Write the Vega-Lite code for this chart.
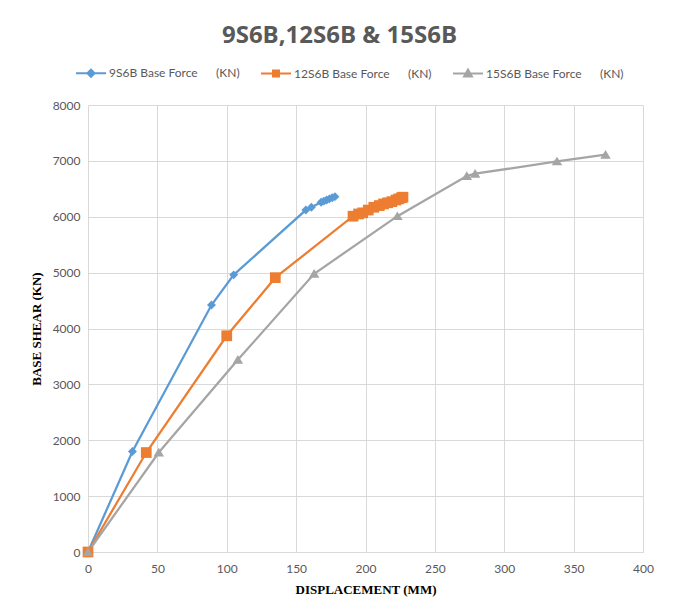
{
  "$schema": "https://vega.github.io/schema/vega-lite/v6.json",
  "width": 555,
  "height": 447,
  "autosize": {"type": "none"},
  "padding": {"left": 88, "top": 105, "right": 34, "bottom": 60},
  "background": "white",
  "title": {
    "text": "9S6B,12S6B & 15S6B",
    "font": "Open Sans",
    "fontSize": 24,
    "fontWeight": "bold",
    "color": "#595959",
    "anchor": "middle",
    "dx": -26,
    "offset": 9
  },
  "data": {
    "values": [
      {"series": "9S6B Base Force\u00a0\u00a0\u00a0\u00a0\u00a0\u00a0(KN)", "displacement": 0, "shear": 0},
      {"series": "9S6B Base Force\u00a0\u00a0\u00a0\u00a0\u00a0\u00a0(KN)", "displacement": 32, "shear": 1800},
      {"series": "9S6B Base Force\u00a0\u00a0\u00a0\u00a0\u00a0\u00a0(KN)", "displacement": 89, "shear": 4420},
      {"series": "9S6B Base Force\u00a0\u00a0\u00a0\u00a0\u00a0\u00a0(KN)", "displacement": 105, "shear": 4960},
      {"series": "9S6B Base Force\u00a0\u00a0\u00a0\u00a0\u00a0\u00a0(KN)", "displacement": 157, "shear": 6120},
      {"series": "9S6B Base Force\u00a0\u00a0\u00a0\u00a0\u00a0\u00a0(KN)", "displacement": 161, "shear": 6170},
      {"series": "9S6B Base Force\u00a0\u00a0\u00a0\u00a0\u00a0\u00a0(KN)", "displacement": 168, "shear": 6260},
      {"series": "9S6B Base Force\u00a0\u00a0\u00a0\u00a0\u00a0\u00a0(KN)", "displacement": 170, "shear": 6280},
      {"series": "9S6B Base Force\u00a0\u00a0\u00a0\u00a0\u00a0\u00a0(KN)", "displacement": 172, "shear": 6300},
      {"series": "9S6B Base Force\u00a0\u00a0\u00a0\u00a0\u00a0\u00a0(KN)", "displacement": 174, "shear": 6320},
      {"series": "9S6B Base Force\u00a0\u00a0\u00a0\u00a0\u00a0\u00a0(KN)", "displacement": 176, "shear": 6340},
      {"series": "9S6B Base Force\u00a0\u00a0\u00a0\u00a0\u00a0\u00a0(KN)", "displacement": 178, "shear": 6360},
      {"series": "12S6B Base Force\u00a0\u00a0\u00a0\u00a0\u00a0\u00a0(KN)", "displacement": 0, "shear": 0},
      {"series": "12S6B Base Force\u00a0\u00a0\u00a0\u00a0\u00a0\u00a0(KN)", "displacement": 42, "shear": 1780},
      {"series": "12S6B Base Force\u00a0\u00a0\u00a0\u00a0\u00a0\u00a0(KN)", "displacement": 100, "shear": 3870},
      {"series": "12S6B Base Force\u00a0\u00a0\u00a0\u00a0\u00a0\u00a0(KN)", "displacement": 135, "shear": 4910},
      {"series": "12S6B Base Force\u00a0\u00a0\u00a0\u00a0\u00a0\u00a0(KN)", "displacement": 191, "shear": 6010},
      {"series": "12S6B Base Force\u00a0\u00a0\u00a0\u00a0\u00a0\u00a0(KN)", "displacement": 195, "shear": 6050},
      {"series": "12S6B Base Force\u00a0\u00a0\u00a0\u00a0\u00a0\u00a0(KN)", "displacement": 198, "shear": 6070},
      {"series": "12S6B Base Force\u00a0\u00a0\u00a0\u00a0\u00a0\u00a0(KN)", "displacement": 202, "shear": 6120},
      {"series": "12S6B Base Force\u00a0\u00a0\u00a0\u00a0\u00a0\u00a0(KN)", "displacement": 206, "shear": 6170},
      {"series": "12S6B Base Force\u00a0\u00a0\u00a0\u00a0\u00a0\u00a0(KN)", "displacement": 210, "shear": 6200},
      {"series": "12S6B Base Force\u00a0\u00a0\u00a0\u00a0\u00a0\u00a0(KN)", "displacement": 213, "shear": 6230},
      {"series": "12S6B Base Force\u00a0\u00a0\u00a0\u00a0\u00a0\u00a0(KN)", "displacement": 216, "shear": 6250},
      {"series": "12S6B Base Force\u00a0\u00a0\u00a0\u00a0\u00a0\u00a0(KN)", "displacement": 219, "shear": 6270},
      {"series": "12S6B Base Force\u00a0\u00a0\u00a0\u00a0\u00a0\u00a0(KN)", "displacement": 222, "shear": 6300},
      {"series": "12S6B Base Force\u00a0\u00a0\u00a0\u00a0\u00a0\u00a0(KN)", "displacement": 224, "shear": 6320},
      {"series": "12S6B Base Force\u00a0\u00a0\u00a0\u00a0\u00a0\u00a0(KN)", "displacement": 226, "shear": 6340},
      {"series": "12S6B Base Force\u00a0\u00a0\u00a0\u00a0\u00a0\u00a0(KN)", "displacement": 227, "shear": 6350},
      {"series": "15S6B Base Force\u00a0\u00a0\u00a0\u00a0\u00a0\u00a0(KN)", "displacement": 0, "shear": 0},
      {"series": "15S6B Base Force\u00a0\u00a0\u00a0\u00a0\u00a0\u00a0(KN)", "displacement": 51, "shear": 1780},
      {"series": "15S6B Base Force\u00a0\u00a0\u00a0\u00a0\u00a0\u00a0(KN)", "displacement": 108, "shear": 3440},
      {"series": "15S6B Base Force\u00a0\u00a0\u00a0\u00a0\u00a0\u00a0(KN)", "displacement": 163, "shear": 4980},
      {"series": "15S6B Base Force\u00a0\u00a0\u00a0\u00a0\u00a0\u00a0(KN)", "displacement": 223, "shear": 6010},
      {"series": "15S6B Base Force\u00a0\u00a0\u00a0\u00a0\u00a0\u00a0(KN)", "displacement": 273, "shear": 6730},
      {"series": "15S6B Base Force\u00a0\u00a0\u00a0\u00a0\u00a0\u00a0(KN)", "displacement": 279, "shear": 6770},
      {"series": "15S6B Base Force\u00a0\u00a0\u00a0\u00a0\u00a0\u00a0(KN)", "displacement": 338, "shear": 6990},
      {"series": "15S6B Base Force\u00a0\u00a0\u00a0\u00a0\u00a0\u00a0(KN)", "displacement": 373, "shear": 7110}
    ]
  },
  "encoding": {
    "x": {
      "field": "displacement",
      "type": "quantitative",
      "scale": {"domain": [0, 400], "nice": false},
      "axis": {
        "values": [0, 50, 100, 150, 200, 250, 300, 350, 400],
        "title": "DISPLACEMENT (MM)",
        "titleFont": "Liberation Serif",
        "titleFontSize": 13,
        "titleFontWeight": "bold",
        "titleColor": "#000000",
        "titlePadding": 9,
        "labelFont": "Lato",
        "labelFontSize": 12,
        "labelColor": "#595959",
        "labelPadding": 11,
        "ticks": false,
        "grid": true,
        "gridColor": "#d9d9d9",
        "domainColor": "#d9d9d9",
        "labelFlush": false
      }
    },
    "y": {
      "field": "shear",
      "type": "quantitative",
      "scale": {"domain": [0, 8000], "nice": false},
      "axis": {
        "values": [0, 1000, 2000, 3000, 4000, 5000, 6000, 7000, 8000],
        "format": "d",
        "title": "BASE SHEAR (KN)",
        "titleFont": "Liberation Serif",
        "titleFontSize": 13,
        "titleFontWeight": "bold",
        "titleColor": "#000000",
        "titlePadding": 9,
        "labelFont": "Lato",
        "labelFontSize": 12,
        "labelColor": "#595959",
        "labelPadding": 8,
        "ticks": false,
        "grid": true,
        "gridColor": "#d9d9d9",
        "domain": false,
        "labelFlush": false
      }
    },
    "color": {
      "field": "series",
      "type": "nominal",
      "sort": null,
      "scale": {
        "domain": [
          "9S6B Base Force\u00a0\u00a0\u00a0\u00a0\u00a0\u00a0(KN)",
          "12S6B Base Force\u00a0\u00a0\u00a0\u00a0\u00a0\u00a0(KN)",
          "15S6B Base Force\u00a0\u00a0\u00a0\u00a0\u00a0\u00a0(KN)"
        ],
        "range": ["#5B9BD5", "#ED7D31", "#A5A5A5"]
      },
      "legend": {
        "orient": "none",
        "legendX": -13,
        "legendY": -48,
        "direction": "horizontal",
        "title": null,
        "padding": 0,
        "labelFont": "Lato",
        "labelFontSize": 12,
        "labelColor": "#595959",
        "labelLimit": 400,
        "labelOffset": 2,
        "columnPadding": 17,
        "symbolSize": 900,
        "symbolStrokeWidth": 2,
        "encode": {
          "symbols": {
            "update": {
              "shape": {"signal": "indexof(datum.value,'9S6B')===0 ? 'M-1,0H1M-0.24,0L0,-0.24L0.24,0L0,0.24Z' : indexof(datum.value,'12S6B')===0 ? 'M-1,0H1M-0.2,-0.2H0.2V0.2H-0.2Z' : 'M-1,0H1M0,-0.27L0.26,0.2L-0.26,0.2Z'"},
              "fill": {"signal": "indexof(datum.value,'9S6B')===0 ? '#5B9BD5' : indexof(datum.value,'12S6B')===0 ? '#ED7D31' : '#A5A5A5'"},
              "stroke": {"signal": "indexof(datum.value,'9S6B')===0 ? '#5B9BD5' : indexof(datum.value,'12S6B')===0 ? '#ED7D31' : '#A5A5A5'"},
              "strokeWidth": {"value": 2},
              "size": {"value": 900},
              "opacity": {"value": 1}
            }
          }
        }
      }
    }
  },
  "layer": [
    {
      "mark": {"type": "line", "strokeWidth": 2.25},
      "encoding": {}
    },
    {
      "transform": [{"filter": {"field": "series", "equal": "9S6B Base Force\u00a0\u00a0\u00a0\u00a0\u00a0\u00a0(KN)"}}],
      "mark": {"type": "point", "filled": true, "opacity": 1, "size": 110, "shape": "M-0.85,0L0,-0.85L0.85,0L0,0.85Z"},
      "encoding": {}
    },
    {
      "transform": [{"filter": {"field": "series", "equal": "12S6B Base Force\u00a0\u00a0\u00a0\u00a0\u00a0\u00a0(KN)"}}],
      "mark": {"type": "point", "filled": true, "opacity": 1, "size": 115, "shape": "square"},
      "encoding": {}
    },
    {
      "transform": [{"filter": {"field": "series", "equal": "15S6B Base Force\u00a0\u00a0\u00a0\u00a0\u00a0\u00a0(KN)"}}],
      "mark": {"type": "point", "filled": true, "opacity": 1, "size": 110, "shape": "M0,-0.9L1,0.75L-1,0.75Z"},
      "encoding": {}
    }
  ],
  "config": {
    "view": {"stroke": null}
  }
}
